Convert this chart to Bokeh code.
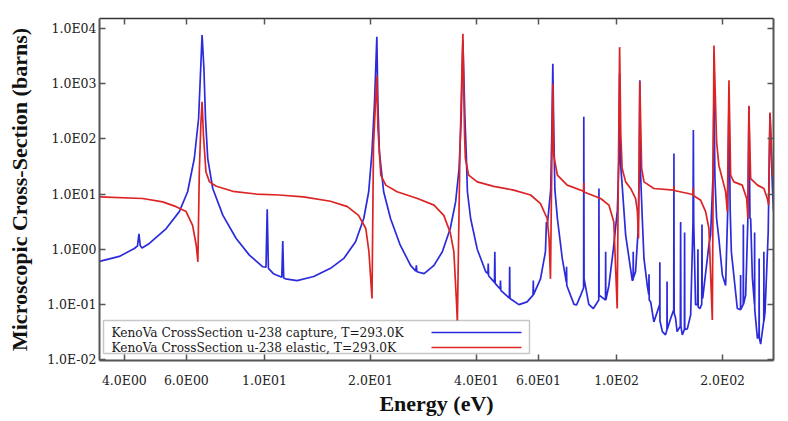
from bokeh.plotting import figure
from bokeh.models import (LogAxis, FixedTicker, CustomJSTickFormatter, BoxAnnotation,
                          Label, Range1d)
from bokeh.embed import file_html
from bokeh.resources import INLINE

# ---------------- data ----------------
capture_energy = [3.40, 3.87, 4.27, 4.36, 4.40, 4.44, 4.49, 4.71, 5.26, 5.73, 6.05, 6.32, 6.50, 6.59,
                  6.65, 6.73, 6.80, 6.90, 7.13, 7.62, 8.31, 9.06, 9.89, 10.10, 10.18, 10.26, 10.6,
                  11.2, 11.27, 11.34, 11.47, 12.38, 13.80, 15.40, 16.8, 18.14, 19.14, 19.77, 20.2,
                  20.54, 20.85, 20.99, 21.2, 21.8, 22.8, 24.3, 26.0, 26.9, 27.0, 27.1, 28.4, 30.3,
                  32.0, 33.7, 34.9, 35.7, 36.2, 36.6, 37.1, 37.4, 37.7, 38.5, 40.2, 42.5, 43.1,
                  43.2, 43.3, 45.0, 45.1, 45.2, 46.7, 46.8, 46.9, 49.6, 49.7, 49.8, 52.8, 55.7,
                  57.9, 58.0, 58.1, 60.8, 62.8, 63.2, 63.6, 65.0, 65.5, 65.9, 66.3, 66.8, 67.9,
                  70.1, 72.0, 72.1, 72.2, 75.7, 77.0, 79.1, 80.6, 80.7, 80.85, 83.4, 85.9, 89.0,
                  89.1, 89.2, 93.0, 93.1, 93.2, 95.1, 97.9, 100.5, 101.5, 102.0, 102.5, 103.7,
                  106.1, 110.8, 111.4, 111.5, 111.6, 113.2, 115.0, 116.0, 116.4, 116.8, 118.3,
                  119.6, 122.2, 123.4, 123.6, 123.8, 125.0, 127.6, 132.6, 132.7, 132.8, 134.9,
                  137.7, 139.0, 139.1, 139.2, 143.0, 145.3, 145.5, 145.7, 147.1, 148.5, 151.7,
                  152.0, 152.3, 153.7, 155.8, 156.0, 156.2, 158.8, 162.3, 164.8, 165.2, 165.6,
                  167.6, 169.9, 170.2, 170.5, 172.4, 174.5, 174.8, 175.1, 175.6, 182.9, 184.9,
                  187.8, 189.0, 190.2, 192.3, 195.2, 199.7, 204.0, 206.8, 208.5, 210.2, 211.8,
                  220.2, 224.9, 225.0, 225.1, 228.9, 229.1, 229.3, 232.6, 235.8, 237.7, 239.2,
                  240.3, 243.0, 246.4, 246.6, 246.8, 251.2, 253.8, 254.0, 254.2, 256.5, 261.8,
                  262.0, 262.2, 264.0, 269.5, 272.6, 276.9, 279.0]
capture_xs = [0.60, 0.74, 1.03, 1.15, 1.9, 1.15, 1.05, 1.27, 2.37, 4.8, 11, 44, 234, 1885,
              7600, 1885, 234, 44, 12.6, 4.1, 1.56, 0.78, 0.48, 0.47, 5.3, 0.45, 0.36,
              0.31, 1.4, 0.30, 0.29, 0.27, 0.32, 0.45, 0.68, 1.36, 3.6, 11, 58,
              469, 7100, 469, 58, 11, 3.6, 1.18, 0.51, 0.40, 0.51, 0.39, 0.36, 0.51,
              0.90, 2.37, 7.2, 29, 234, 6000, 234, 58, 11, 3.6, 1.0, 0.39, 0.36,
              0.55, 0.33, 0.25, 0.90, 0.24, 0.19, 0.27, 0.18, 0.13, 0.48, 0.128, 0.099, 0.111,
              0.147, 0.27, 0.15, 0.29, 0.90, 3.1, 2.8, 12, 150, 2300, 150, 12, 3.6,
              0.68, 0.25, 0.48, 0.22, 0.10, 0.098, 0.147, 0.2, 251, 0.29, 0.10, 0.084, 0.12,
              12.6, 0.147, 0.12, 0.90, 0.12, 0.22, 1.0, 5, 40, 1550, 40, 14.5,
              1.8, 0.27, 0.28, 0.90, 0.30, 0.39, 2.0, 30, 1160, 30, 3.6,
              0.68, 0.22, 0.15, 0.35, 0.12, 0.11, 0.048, 0.1, 0.58, 0.05, 0.032,
              0.028, 0.035, 0.26, 0.035, 0.06, 0.08, 54, 0.07, 0.056, 0.032, 0.04,
              3.1, 0.04, 0.028, 0.035, 2.0, 0.035, 0.036, 0.064, 3.0, 144, 3.0,
              0.098, 0.1, 1.0, 0.09, 0.084, 0.1, 2.8, 0.13, 0.128, 1.2, 1.8,
              20, 660, 20, 3.6, 1.56, 0.34, 0.22, 5, 500, 5, 0.9,
              0.084, 0.08, 0.34, 0.08, 0.1, 2.8, 0.1, 0.147, 3, 380, 3.6,
              3.6, 0.3, 0.1, 2.0, 0.08, 0.024, 0.03, 0.68, 0.025, 0.019, 0.05,
              0.9, 0.05, 0.073, 2, 288, 14.5, 5.0]

elastic_energy = [3.40, 4.51, 5.14, 5.61, 5.99, 6.25, 6.40, 6.47, 6.53, 6.60, 6.65, 6.71, 6.82,
                  6.98, 7.30, 8.13, 9.47, 11.0, 12.9, 15.4, 17.2, 18.5, 19.4, 19.8, 20.2, 20.4,
                  20.85, 21.0, 21.4, 22.1, 23.8, 27.2, 30.3, 32.3, 33.7, 34.5, 35.1, 35.3, 35.9,
                  36.6, 37.0, 37.2, 38.0, 40.2, 44.8, 51.0, 57.0, 60.8, 63.5, 64.3, 64.9, 65.5,
                  65.9, 66.3, 67.9, 72.4, 80.6, 80.7, 80.8, 90.1, 95.1, 98.2, 100.4, 101.2,
                  102.0, 102.8, 103.7, 106.1, 109.6, 113.2, 114.6, 115.4, 116.4, 117.8, 119.6,
                  127.6, 145.4, 145.5, 145.6, 162.3, 165.1, 165.2, 165.3, 173.3, 179.0, 182.9,
                  187.0, 189.0, 192.3, 195.2, 201.8, 204.0, 206.3, 208.5, 210.8, 215.3, 227.4,
                  234.1, 236.0, 237.5, 240.3, 251.2, 262.0, 268.0, 270.3, 272.8, 276.9, 279.0]
elastic_xs = [8.9, 8.3, 7.2, 5.9, 4.8, 2.7, 1.18, 0.59, 25, 200, 470, 116, 25,
              16.6, 13.8, 11.2, 10.0, 9.6, 8.9, 7.4, 5.9, 4.1, 2.37, 0.90, 0.128, 77,
              1400, 154, 22, 14.5, 11, 8.3, 6.3, 4.1, 2.0, 0.90, 0.11, 0.048, 58,
              8000, 116, 44, 22, 16.6, 13.8, 11.8, 9.6, 6.7, 3.6, 1.56, 0.29, 50,
              1000, 50, 22, 14.5, 11.2, 16, 10.9, 8.3, 6.3, 3.1, 0.084, 30,
              4600, 116, 29, 16.6, 12.6, 8.3, 4.8, 1.56, 1100, 29, 16.6,
              12.6, 11.8, 14, 11.6, 10.0, 9.6, 13, 9.4, 7.7, 4.8, 2.37,
              0.052, 4900, 88, 33, 14.5, 11, 4.8, 1150, 22, 16.6, 14.5,
              8.3, 3.6, 400, 19, 14.5, 12.6, 8.3, 6.3, 300, 22, 20]

x_ticks = [4, 6, 10, 20, 40, 60, 100, 200]
x_tick_labels = ["4.0E00", "6.0E00", "1.0E01", "2.0E01", "4.0E01", "6.0E01", "1.0E02", "2.0E02"]
y_ticks = [0.01, 0.1, 1, 10, 100, 1000, 10000]
y_tick_labels = ["1.0E-02", "1.0E-01", "1.0E00", "1.0E01", "1.0E02", "1.0E03", "1.0E04"]

series_names = ["KenoVa CrossSection u-238 capture, T=293.0K",
                "KenoVa CrossSection u-238 elastic, T=293.0K"]

BLUE = "#2b2bdc"
RED = "#dc2424"
AXIS = "#555555"

# ---------------- figure ----------------
p = figure(width=780, height=420, x_axis_type="log", y_axis_type="log",
           x_range=Range1d(3.40, 279), y_range=Range1d(0.0096, 15200),
           output_backend="svg", toolbar_location=None,
           min_border_left=99, min_border_right=7, min_border_top=18, min_border_bottom=60)
p.outline_line_color = None
p.xgrid.visible = False
p.ygrid.visible = False
p.background_fill_color = "white"
p.border_fill_color = "white"

p.line(capture_energy, capture_xs, line_color=BLUE, line_width=1.7)
p.line(elastic_energy, elastic_xs, line_color=RED, line_width=1.7)

code = """
for (let i = 0; i < vals.length; i++) {
  if (Math.abs(vals[i] - tick) / vals[i] < 1e-6) return labs[i];
}
return "";
"""
xfmt = CustomJSTickFormatter(args=dict(vals=x_ticks, labs=x_tick_labels), code=code)
yfmt = CustomJSTickFormatter(args=dict(vals=y_ticks, labs=y_tick_labels), code=code)
blank = CustomJSTickFormatter(code="return '';")


def style(ax):
    ax.axis_line_color = AXIS
    ax.axis_line_width = 2
    ax.major_tick_line_color = AXIS
    ax.major_tick_line_width = 1.5
    ax.major_tick_in = 6
    ax.major_tick_out = 0
    ax.minor_tick_in = 0
    ax.minor_tick_out = 0
    ax.major_label_text_font = "DejaVu Serif"
    ax.major_label_text_font_size = "12.5px"
    ax.major_label_text_color = "#222222"
    ax.axis_label_text_font = "Liberation Serif"
    ax.axis_label_text_font_style = "bold"
    ax.axis_label_text_font_size = "22px"
    ax.axis_label_text_color = "#111111"


xa = p.xaxis[0]
xa.ticker = FixedTicker(ticks=x_ticks)
xa.formatter = xfmt
xa.axis_label = "Energy (eV)"
style(xa)
xa.major_label_standoff = 12
xa.axis_label_standoff = 0

ya = p.yaxis[0]
ya.ticker = FixedTicker(ticks=y_ticks)
ya.formatter = yfmt
ya.axis_label = "Microscopic Cross-Section (barns)"
style(ya)
ya.major_label_standoff = 3
ya.axis_label_standoff = 12

top = LogAxis(ticker=FixedTicker(ticks=x_ticks), formatter=blank)
style(top)
top.major_label_standoff = 0
top.axis_line_color = "#333333"
top.axis_line_width = 1.5
p.add_layout(top, "above")

right = LogAxis(ticker=FixedTicker(ticks=y_ticks), formatter=blank)
style(right)
right.major_label_standoff = 0
p.add_layout(right, "right")

# ---------------- legend (text left, line sample right) ----------------
p.add_layout(BoxAnnotation(left=4, right=430, bottom=7, top=40,
                           left_units="screen", right_units="screen",
                           bottom_units="screen", top_units="screen",
                           fill_color="white", fill_alpha=1.0,
                           line_color="#444444", line_width=1.5))
for i, (name, col) in enumerate(zip(series_names, [BLUE, RED])):
    yy = 28 - 15 * i
    p.add_layout(Label(x=12, y=yy, x_units="screen", y_units="screen", text=name,
                       text_font="DejaVu Serif", text_font_size="12.2px",
                       text_color="#1a1a1a", text_baseline="middle"))
    p.add_layout(BoxAnnotation(left=332, right=422, bottom=yy - 0.75, top=yy + 0.75,
                               left_units="screen", right_units="screen",
                               bottom_units="screen", top_units="screen",
                               fill_color=col, fill_alpha=1.0, line_alpha=0))

open("out.html", "w").write(file_html(p, INLINE))
